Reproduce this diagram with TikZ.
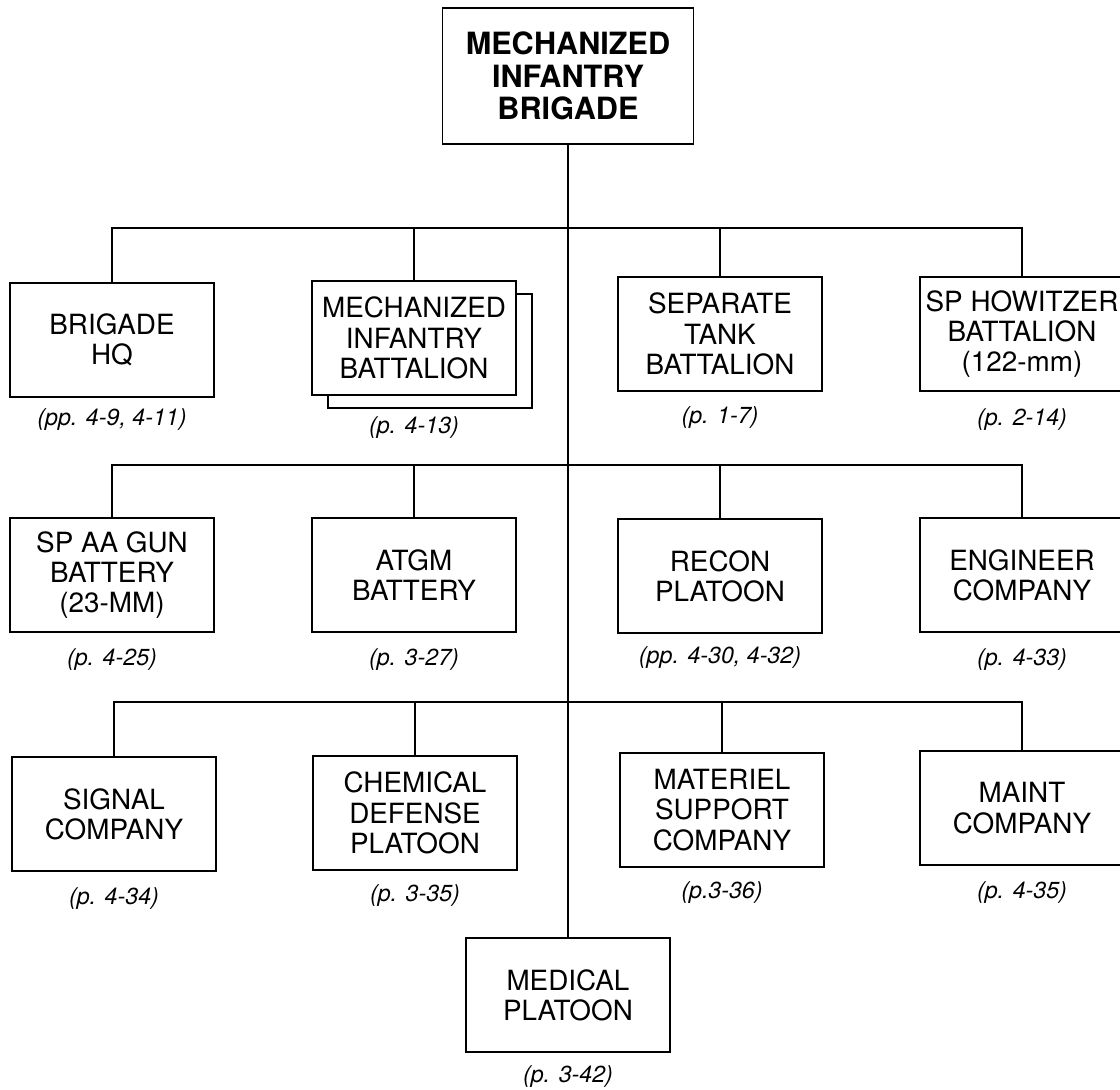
\documentclass[tikz,border=0pt]{standalone}
\usepackage{fontspec}
\setmainfont{TeX Gyre Heros}
\begin{document}
\begin{tikzpicture}[x=0.025cm,y=-0.025cm,
    unit/.style={draw,line width=1.3pt,fill=white,align=center,
      minimum width=5.08cm,minimum height=2.83cm,inner sep=0pt,
      font=\fontsize{19.8}{21.5}\selectfont},
    topunit/.style={unit,minimum width=6.27cm,minimum height=3.4cm,
      font=\fontsize{21.8}{23.2}\selectfont\bfseries},
    pageref/.style={font=\fontsize{16.5}{18}\selectfont\itshape},
    link/.style={line width=1.1pt}]
    \useasboundingbox (0,0) rectangle (1120,1090);
    % top of the tree
    \node[topunit] (mib) at (568,76) {MECHANIZED\\INFANTRY\\BRIGADE};
    \coordinate (busa) at (0,228);
    \coordinate (busb) at (0,465);
    \coordinate (busc) at (0,702);
    % first row
    \node[unit] (hq) at (112,340) {BRIGADE\\HQ};
    \node[unit] (inbback) at (430,351) {};
    \node[unit] (inb) at (414,338) {MECHANIZED\\INFANTRY\\BATTALION};
    \node[unit] (tank) at (720,334) {SEPARATE\\TANK\\BATTALION};
    \node[unit] (how) at (1022,334) {SP HOWITZER\\BATTALION\\(122-mm)};
    \node[pageref] (hqref) at (112,420) {(pp. 4-9, 4-11)};
    \node[pageref] (inbref) at (414,428) {(p. 4-13)};
    \node[pageref] (tankref) at (720,418) {(p. 1-7)};
    \node[pageref] (howref) at (1022,420) {(p. 2-14)};
    % second row
    \node[unit] (aa) at (112,575) {SP AA GUN\\BATTERY\\(23-MM)};
    \node[unit] (atgm) at (414,575) {ATGM\\BATTERY};
    \node[unit] (recon) at (720,576) {RECON\\PLATOON};
    \node[unit] (eng) at (1022,575) {ENGINEER\\COMPANY};
    \node[pageref] (aaref) at (112,660) {(p. 4-25)};
    \node[pageref] (atgmref) at (414,660) {(p. 3-27)};
    \node[pageref] (reconref) at (720,658) {(pp. 4-30, 4-32)};
    \node[pageref] (engref) at (1022,660) {(p. 4-33)};
    % third row
    \node[unit] (sig) at (114,814) {SIGNAL\\COMPANY};
    \node[unit] (chem) at (415,813) {CHEMICAL\\DEFENSE\\PLATOON};
    \node[unit] (mat) at (722,810) {MATERIEL\\SUPPORT\\COMPANY};
    \node[unit] (maint) at (1022,808) {MAINT\\COMPANY};
    \node[pageref] (sigref) at (114,899) {(p. 4-34)};
    \node[pageref] (chemref) at (415,896) {(p. 3-35)};
    \node[pageref] (matref) at (722,893) {(p.3-36)};
    \node[pageref] (maintref) at (1022,893) {(p. 4-35)};
    % last one
    \node[unit] (med) at (568,995) {MEDICAL\\PLATOON};
    \node[pageref] (medref) at (568,1077) {(p. 3-42)};
    % connectors
    \draw[link] (mib.south) -- (med.north);
    \draw[link] (hq.north) |- (how.north |- busa) -- (how.north);
    \draw[link] (inb.north) -- (inb.north |- busa);
    \draw[link] (tank.north) -- (tank.north |- busa);
    \draw[link] (aa.north) |- (eng.north |- busb) -- (eng.north);
    \draw[link] (atgm.north) -- (atgm.north |- busb);
    \draw[link] (recon.north) -- (recon.north |- busb);
    \draw[link] (sig.north) |- (maint.north |- busc) -- (maint.north);
    \draw[link] (chem.north) -- (chem.north |- busc);
    \draw[link] (mat.north) -- (mat.north |- busc);
  \end{tikzpicture}
\end{document}
